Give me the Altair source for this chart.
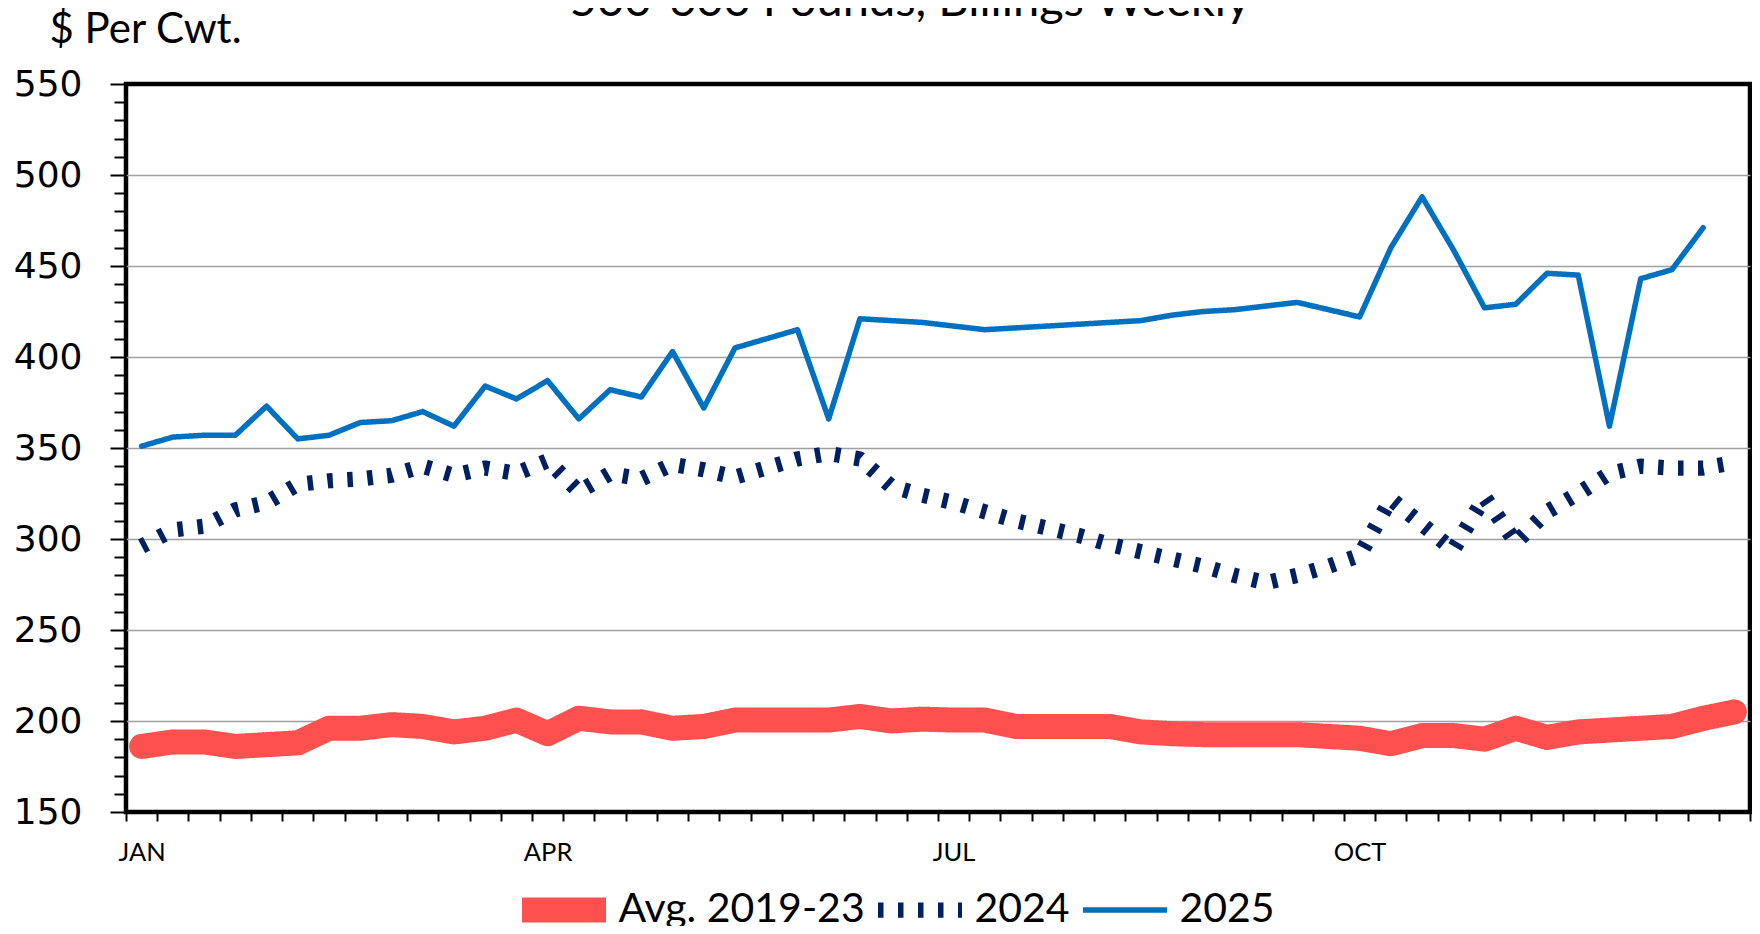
import altair as alt
import pandas as pd

# ---------------- data ----------------
series_names = ["Avg. 2019-23", "2024", "2025"]

avg_2019_23 = [186, 188.5, 188.5, 186, 187, 188, 196, 196, 198, 197, 194, 196, 200.5,
               193, 201.5, 199.5, 199.5, 196, 197, 200.5, 200.5, 200.5, 200.5, 202.5, 200, 201,
               200.5, 200.5, 197, 197, 197, 197, 194, 193, 192.5, 192.5, 192.5, 192.5, 191.5,
               190.5, 187.5, 192, 192, 190, 196, 191, 194, 195, 196, 197, 201.5, 205]

y2024 = [296, 305, 307, 316, 320, 330, 332, 333, 335, 340, 335, 339, 336,
         343, 326, 336, 333, 341, 338, 334, 339, 344, 347, 344, 329, 324,
         320, 315, 310, 306, 302, 297, 293, 289, 285, 280, 276, 280, 285,
         291, 322, 308, 294, 323, 298, 315, 325, 336, 340, 339, 339, 342]

y2025 = [351, 356, 357, 357, 373, 355, 357, 364, 365, 370, 362, 384, 377,
         387, 366, 382, 378, 403, 372, 405, 410, 415, 366, 421, 420, 419,
         417, 415, 416, 417, 418, 419, 420, 423, 425, 426, 428, 430, 426,
         422, 460, 488, 459, 427, 429, 446, 445, 362, 443, 448, 471]

month_labels = ["JAN", "APR", "JUL", "OCT"]
month_first_week = [1, 14, 27, 40]

title_text = "500-600 Pounds, Billings Weekly"
y_title = "$ Per Cwt."

# ---------------- build table ----------------
rows = []
for name, vals in zip(series_names, [avg_2019_23, y2024, y2025]):
    for i, v in enumerate(vals):
        rows.append({"series": name, "week": i + 1, "price": v})
df = pd.DataFrame(rows)

# ---------------- styling ----------------
colors = ["#FF5050", "#002060", "#0070C0"]
widths = [25, 5.5, 8]
dashes = [[1, 0], [5.5, 14.5], [1, 0]]

W, H = 1624, 728
n_weeks = 52
step = W / n_weeks

tick_values = [0.5 + i for i in range(n_weeks + 1)]
label_positions = [w - 0.5 for w in month_first_week]
label_expr = (f"indexof({label_positions}, datum.value) >= 0 ? "
              f"{month_labels}[indexof({label_positions}, datum.value)] : ''")

x_enc = alt.X(
    "week:Q",
    scale=alt.Scale(domain=[0.5, n_weeks + 0.5], nice=False, zero=False),
    axis=alt.Axis(
        values=tick_values, labelExpr=label_expr, labelOffset=step / 2,
        tickSize=9, tickWidth=2, tickColor="black", domain=False, grid=False,
        labelFont="Lato", labelFontSize=25.5, labelColor="black", labelPadding=19,
        labelFlush=False, labelOverlap=False, title=None,
    ),
)

y_enc = alt.Y(
    "price:Q",
    scale=alt.Scale(domain=[150, 550], nice=False, zero=False),
    axis=alt.Axis(
        values=list(range(150, 551, 10)),
        labelExpr="datum.value % 50 === 0 ? datum.label : ''",
        tickSize={"condition": {"test": "datum.value % 50 === 0", "value": 16}, "value": 12},
        tickWidth=2, tickColor="black", domain=False,
        labelFont="DejaVu Sans", labelFontSize=36, labelColor="black", labelPadding=28,
        labelOverlap=False,
        grid=True, gridColor="#A0A0A0", gridWidth=1.5,
        gridOpacity={"condition": {"test": "datum.value % 50 === 0 && datum.value > 150 && datum.value < 550",
                                   "value": 1}, "value": 0},
        title=y_title, titleFont="Lato", titleFontSize=42, titleFontWeight="normal",
        titleColor="black", titleAngle=0, titleAlign="left", titleBaseline="alphabetic",
        titleX=-77, titleY=-42,
    ),
)

legend = alt.Legend(
    title=None, orient="none", legendX=383.5, legendY=784, direction="horizontal", columns=3,
    symbolType="stroke", symbolSize=84 * 84, clipHeight=84, labelFont="Lato", labelFontSize=41,
    labelColor="black", labelOffset=0, labelLimit=500, columnPadding=0, padding=0,
)

encodings = dict(
    x=x_enc,
    y=y_enc,
    color=alt.Color("series:N", scale=alt.Scale(domain=series_names, range=colors), legend=legend),
    strokeDash=alt.StrokeDash("series:N", scale=alt.Scale(domain=series_names, range=dashes), legend=legend),
    strokeWidth=alt.StrokeWidth("series:N", scale=alt.Scale(domain=series_names, range=widths), legend=legend),
)

solid_lines = alt.Chart(df).transform_filter(
    alt.FieldOneOfPredicate(field="series", oneOf=[series_names[0], series_names[2]])
).mark_line(strokeCap="round", strokeJoin="round").encode(**encodings)

dotted_line = alt.Chart(df).transform_filter(
    alt.FieldOneOfPredicate(field="series", oneOf=[series_names[1]])
).mark_line(strokeCap="butt", strokeJoin="round").encode(**encodings)

chart = alt.layer(solid_lines, dotted_line).properties(
    width=W, height=H,
    title=alt.TitleParams(title_text, font="Lato", fontSize=47, fontWeight="normal", color="black",
                          anchor="middle", baseline="alphabetic", offset=0, dx=-28, dy=55),
    autosize=alt.AutoSizeParams(type="none"),
    padding={"left": 118, "top": 76, "right": 2, "bottom": 114},
).configure_view(stroke="black", strokeWidth=4.5)

chart.save("out.html", embed_options={"renderer": "svg", "actions": False})
